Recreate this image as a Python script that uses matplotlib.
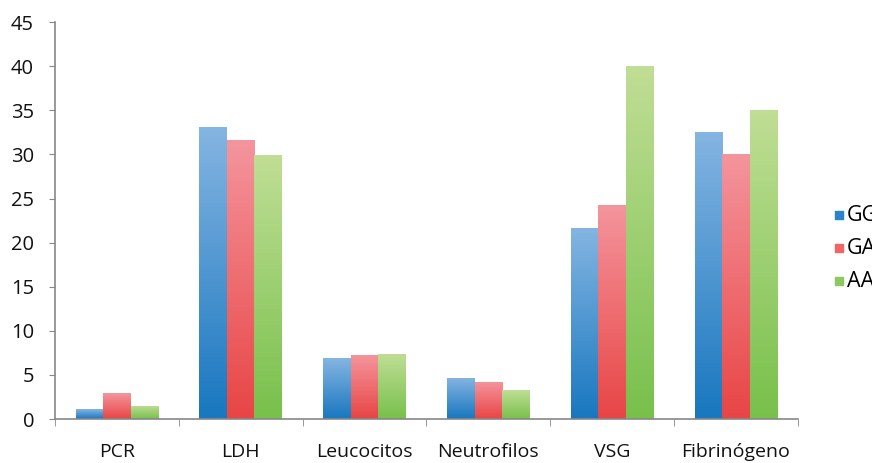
import numpy as np
import matplotlib
matplotlib.use("Agg")
import matplotlib.pyplot as plt
from matplotlib.colors import LinearSegmentedColormap

categories = ["PCR", "LDH", "Leucocitos", "Neutrofilos", "VSG", "Fibrinógeno"]
series = ["GG", "GA", "AA"]
gg = [1.1, 33.1, 6.9, 4.7, 21.7, 32.6]
ga = [2.9, 31.6, 7.3, 4.2, 24.3, 30.1]
aa = [1.5, 29.9, 7.4, 3.25, 40.0, 35.1]

# top colour, bottom colour, legend colour
colors = [("#85b5e2", "#1877bf", "#2b83c9"),
          ("#f4959d", "#e84545", "#f26565"),
          ("#c0de95", "#78c04c", "#8cca60")]

plt.rcParams['font.family'] = ['Open Sans', 'DejaVu Sans']

fig = plt.figure(figsize=(8.72, 4.63), dpi=100)
ax = fig.add_axes([0.063, 0.095, 0.852, 0.857])

x = np.arange(len(categories))
w = 0.222
handles = []
grad = np.linspace(0, 1, 256).reshape(-1, 1)
for i, (vals, name) in enumerate(zip([gg, ga, aa], series)):
    top, bottom, leg = colors[i]
    bars = ax.bar(x + (i - 1) * w, vals, width=w, color="none", edgecolor="none")
    cmap = LinearSegmentedColormap.from_list("g%d" % i, [bottom, top])
    for b in bars:
        x0 = b.get_x()
        im = ax.imshow(grad, cmap=cmap, origin="lower", aspect="auto",
                       extent=[x0, x0 + b.get_width(), 0, b.get_height()], zorder=2)
        im.set_clip_path(b)
    h = ax.scatter([], [], marker="s", s=40, color=leg, label=name)
    handles.append(h)

ax.set_xlim(-0.5, len(categories) - 0.5)
ax.set_ylim(0, 45)
ax.set_yticks(np.arange(0, 46, 5))
ax.set_xticks(x)
ax.set_xticklabels(categories)
ax.set_xticks(np.arange(-0.5, len(categories), 1), minor=True)
ax.tick_params(axis="x", which="major", length=0, pad=17, labelsize=14, colors="#111111")
ax.tick_params(axis="x", which="minor", length=5, direction="out", color="#888888")
ax.tick_params(axis="y", length=4, direction="out", pad=11, labelsize=14.5, color="#888888", labelcolor="#111111")
for s in ["top", "right"]:
    ax.spines[s].set_visible(False)
for s in ["left", "bottom"]:
    ax.spines[s].set_color("#888888")
    ax.spines[s].set_linewidth(1.2)

ax.legend(handles=handles, loc="center left", bbox_to_anchor=(1.033, 0.43), frameon=False,
          fontsize=15.5, handlelength=0.5, handletextpad=0.15, labelspacing=0.55, borderpad=0)

fig.savefig("out.png", dpi=100)
